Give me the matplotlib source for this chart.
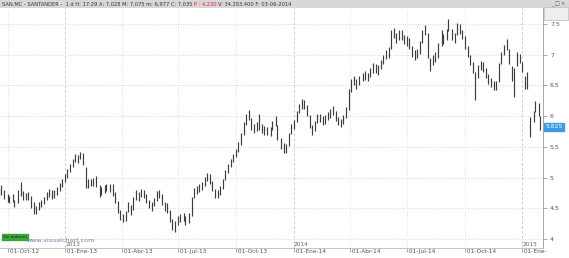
import matplotlib
matplotlib.use("Agg")
import matplotlib.pyplot as plt
from matplotlib.patches import Rectangle
import pandas as pd

# bars every 3 business days (SAN.MC), high / low
start_date = "2012-09-18"
n_bars = 207
low = [4.68, 4.72, 4.65, 4.60, 4.58, 4.60, 4.52, 4.58, 4.70, 4.63,
       4.63, 4.64, 4.50, 4.40, 4.41, 4.47, 4.52, 4.57, 4.63, 4.69,
       4.65, 4.67, 4.72, 4.78, 4.84, 4.92, 5.00, 5.09, 5.17, 5.25,
       5.24, 5.30, 5.20, 4.83, 4.83, 4.86, 4.86, 4.85, 4.68, 4.72,
       4.75, 4.78, 4.76, 4.70, 4.58, 4.42, 4.31, 4.27, 4.30, 4.44,
       4.39, 4.48, 4.64, 4.62, 4.69, 4.67, 4.58, 4.50, 4.46, 4.53,
       4.62, 4.67, 4.56, 4.46, 4.42, 4.28, 4.15, 4.12, 4.22, 4.27,
       4.29, 4.22, 4.26, 4.38, 4.66, 4.73, 4.76, 4.80, 4.87, 4.94,
       4.90, 4.78, 4.66, 4.66, 4.71, 4.82, 4.96, 5.08, 5.17, 5.25,
       5.33, 5.42, 5.53, 5.70, 5.86, 5.93, 5.78, 5.72, 5.76, 5.78,
       5.72, 5.69, 5.69, 5.68, 5.77, 5.84, 5.62, 5.47, 5.40, 5.40,
       5.52, 5.71, 5.79, 5.91, 6.05, 6.12, 6.12, 6.00, 5.80, 5.70,
       5.76, 5.89, 5.90, 5.86, 5.88, 5.93, 5.97, 6.02, 5.92, 5.85,
       5.82, 5.87, 5.97, 6.10, 6.40, 6.50, 6.45, 6.50, 6.57, 6.59,
       6.57, 6.64, 6.71, 6.71, 6.67, 6.77, 6.85, 6.93, 6.95, 7.10,
       7.27, 7.19, 7.24, 7.24, 7.17, 7.15, 7.10, 6.96, 6.92, 6.95,
       7.02, 7.20, 7.32, 6.95, 6.74, 6.84, 6.88, 6.95, 7.15, 7.18,
       7.24, 7.38, 7.24, 7.20, 7.32, 7.34, 7.25, 7.10, 6.96, 6.84,
       6.70, 6.27, 6.62, 6.75, 6.72, 6.62, 6.52, 6.48, 6.42, 6.43,
       6.55, 6.85, 7.00, 7.08, 6.85, 6.58, 6.32, 6.82, 6.87, 6.72,
       6.45, 6.45, 5.66, 5.90, 6.06, 6.00, 5.78]
high = [4.82, 4.88, 4.80, 4.73, 4.70, 4.74, 4.64, 4.80, 4.93, 4.78,
        4.75, 4.76, 4.70, 4.60, 4.53, 4.60, 4.64, 4.69, 4.76, 4.82,
        4.79, 4.80, 4.85, 4.91, 4.98, 5.06, 5.14, 5.22, 5.31, 5.38,
        5.37, 5.42, 5.40, 5.18, 4.98, 4.98, 4.99, 5.02, 4.88, 4.85,
        4.88, 4.90, 4.89, 4.90, 4.76, 4.62, 4.48, 4.40, 4.46, 4.60,
        4.56, 4.68, 4.79, 4.76, 4.82, 4.80, 4.73, 4.64, 4.60, 4.67,
        4.78, 4.80, 4.73, 4.60, 4.58, 4.47, 4.32, 4.30, 4.38, 4.41,
        4.43, 4.37, 4.42, 4.68, 4.83, 4.87, 4.90, 4.93, 5.01, 5.08,
        5.06, 4.95, 4.82, 4.79, 4.86, 4.98, 5.12, 5.22, 5.31, 5.39,
        5.47, 5.58, 5.73, 5.90, 6.03, 6.10, 5.97, 5.88, 5.90, 6.04,
        5.88, 5.84, 5.83, 5.82, 5.92, 6.00, 5.85, 5.65, 5.56, 5.55,
        5.72, 5.88, 5.94, 6.08, 6.20, 6.28, 6.27, 6.18, 6.02, 5.86,
        5.92, 6.04, 6.04, 6.01, 6.02, 6.07, 6.11, 6.16, 6.08, 5.99,
        5.96, 6.02, 6.15, 6.45, 6.60, 6.65, 6.60, 6.65, 6.71, 6.73,
        6.71, 6.78, 6.86, 6.85, 6.83, 6.92, 7.00, 7.07, 7.12, 7.40,
        7.43, 7.35, 7.40, 7.40, 7.33, 7.30, 7.28, 7.14, 7.07, 7.10,
        7.22, 7.40, 7.48, 7.35, 6.95, 6.99, 7.04, 7.20, 7.40, 7.34,
        7.42, 7.58, 7.42, 7.36, 7.52, 7.50, 7.41, 7.30, 7.14, 7.00,
        6.88, 6.72, 6.84, 6.90, 6.88, 6.78, 6.68, 6.63, 6.58, 6.58,
        6.86, 7.05, 7.16, 7.26, 7.10, 6.82, 6.78, 7.04, 7.02, 6.88,
        6.65, 6.72, 5.98, 6.08, 6.25, 6.22, 6.00]
last_price = 5.825

tick_dates = ["2012-10-01", "2013-01-01", "2013-04-01", "2013-07-01", "2013-10-01",
              "2014-01-01", "2014-04-01", "2014-07-01", "2014-10-01", "2015-01-01"]
tick_labels = ["01-Oct-12", "01-Ene-13", "01-Abr-13", "01-Jul-13", "01-Oct-13",
               "01-Ene-14", "01-Abr-14", "01-Jul-14", "01-Oct-14", "01-Ene-"]
year_dates = ["2013-01-01", "2014-01-01", "2015-01-01"]
year_labels = ["2013", "2014", "2015"]
y_ticks = [4, 4.5, 5, 5.5, 6, 6.5, 7, 7.5]

dates = pd.bdate_range(start=start_date, periods=n_bars, freq="3B")

W, H = 569, 258
fig = plt.figure(figsize=(W / 100, H / 100), dpi=100)
fig.patch.set_facecolor("white")
ax = fig.add_axes([0, 10 / H, 543 / W, 240 / H])

# grid
for yv in y_ticks:
    ax.axhline(yv, color="#c8c8c8", lw=0.6, ls=(0, (1, 2)), zorder=0)
for d in tick_dates:
    dd = pd.Timestamp(d)
    if d in year_dates:
        ax.axvline(dd, color="#cfcfcf", lw=0.7, ls=(0, (3, 2)), zorder=0)
    else:
        ax.axvline(dd, color="#d4d4d4", lw=0.6, ls=(0, (1, 2)), zorder=0)

ax.vlines(dates, low, high, color="#3e3e3e", lw=0.85, zorder=2)

ax.set_xlim(pd.Timestamp("2012-09-19"), pd.Timestamp("2015-02-03"))
ax.set_ylim(3.853, 7.762)

ax.set_xticks([pd.Timestamp(d) for d in tick_dates])
ax.set_xticklabels([" " + t for t in tick_labels], ha="left", fontsize=4.2, color="#555555")
ax.tick_params(axis="x", length=3, width=0.5, color="#888888", pad=-2.6)

ax.yaxis.tick_right()
ax.set_yticks(y_ticks)
ax.set_yticklabels(["%g" % v for v in y_ticks], fontsize=4.5, color="#555555")
ax.tick_params(axis="y", length=3, width=0.5, color="#888888", pad=2)

for s in ["left", "top"]:
    ax.spines[s].set_visible(False)
ax.spines["right"].set_color("#999999")
ax.spines["right"].set_linewidth(0.6)
ax.spines["bottom"].set_color("#bbbbbb")
ax.spines["bottom"].set_linewidth(0.6)

for d, lab in zip(year_dates, year_labels):
    ax.text(pd.Timestamp(d), 3.862, lab, fontsize=4.2, color="#666666",
            ha="left", va="bottom")

# last price marker
ax.annotate("%.3f" % last_price, xy=(1.0, last_price), xycoords=("axes fraction", "data"),
            xytext=(1.5, 0), textcoords="offset points", fontsize=4.3, color="white",
            ha="left", va="center",
            bbox=dict(boxstyle="square,pad=0.25", fc="#3b9be6", ec="#3b9be6"))

# watermark / status
ax.text(0.006, 0.045, "Sin órdenes", transform=ax.transAxes, fontsize=3.0,
        color="#113311", ha="left", va="center",
        bbox=dict(boxstyle="square,pad=0.2", fc="#3aa63a", ec="#3aa63a"))
ax.text(0.05, 0.03, "www.visualchart.com", transform=ax.transAxes, fontsize=4.6,
        color="#7b7bb5", ha="left", va="center")

# title bar
fig.patches.append(Rectangle((0, 1 - 8 / H), 1, 8 / H, transform=fig.transFigure,
                             fc="#d8d8d8", ec="none", zorder=0))
fig.patches.append(Rectangle((544 / W, 1 - 20 / H), 24 / W, 13 / H, transform=fig.transFigure,
                             fc="#eeeeee", ec="#bbbbbb", lw=0.5, zorder=1))
ty = 1 - 4 / H
parts = [("SAN.MC - SANTANDER -  1 d H: 17:29 A: 7,028 M: 7,075 m: 6,977 C: 7,035 ", "#333333"),
         ("P : 4,230 ", "#dd2222"),
         ("V: 34.283.400 F: 03-06-2014", "#333333")]
renderer = fig.canvas.get_renderer()
xpos = 2 / W
for txt, col in parts:
    t = fig.text(xpos, ty, txt, fontsize=3.7, color=col, va="center", ha="left")
    bb = t.get_window_extent(renderer=renderer)
    xpos = bb.x1 / W
fig.text(558 / W, ty, "_ □ ×", fontsize=3.5, color="#555555", va="center", ha="center")

fig.savefig("out.png", dpi=100)
